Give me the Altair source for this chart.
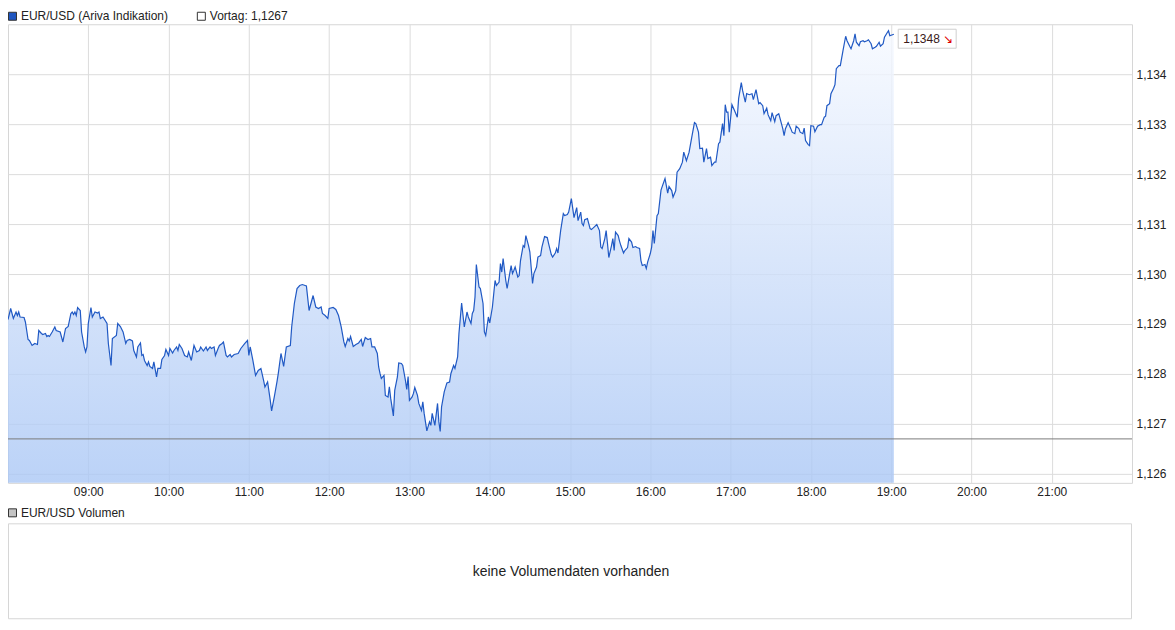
import altair as alt
import pandas as pd

# minutes after 08:00
MINUTES = [
    0,2,4,6,7,8,9,12,13,15, 16,18,20,22,23,25,26,28,29,30, 31,33,35,36,39,41,43,45,47,48,
    49,50,51,52,54,55,57,58,59,60, 62,63,65,67,68,69,71,74,75,77, 78,81,82,84,86,88,89,91,93,94,
    96,97,99,100,101,102,104,105,106,108, 109,111,112,114,115,117,118,120,121,123,
    124,126,127,128,130,132,134,135,137,139, 141,143,144,146,148,149,151,152,154,155,
    157,158,160,161,163,164,166,167,169,
    172,174,177,179,180,181,183,185,187,189, 191,192,194,196,197,199,201,202,204,206,
    208,211,212,214,216,218,220,222,223,225, 228,230,232,234,235,237,239,240,243,245,
    247,249,251,252,254,255,256,258,260,262, 264,265,267,269,271,272,274,276,277,278,
    279,281,282,284,285,286,288,289,291,292, 294,295,297,298,299,300,302,303,304,306,
    307,309,310,311,313,315,316,317,319,321, 322,323,324,326,328,330,331,333,
    334,336,337,339,341,343,344,346,347,348, 349,350,352,353,355,356,357,359,360,362,
    364,365,367,368,369,370,372,373,374,376, 377,378,379,381,382,383,385,386,387,389,
    390,392,393,395,396,398,399,401,403,404, 406,407,409,410,411,413,415,416,418,419,
    421,423,425,426,428,429,430,431,433,435, 436,438,440,442,443,444,446,447,448,449,
    451,452,453,454,456,457,458,460,461,463, 464,466,467,469,470,472,473,474,476,477,
    478,480,481,482,483,485,486,488,489,491, 493,494,496,497,
    499,500,502,504,505,507,509,511,513,514, 516,517,519,520,522,523,525,526,528,529,
    531,532,534,535,536,537,538,539,541,543, 545,546,548,549,551,552,554,556,557,559,
    561,562,564,565,567,568,570,571,573,574, 576,577,579,580,581,583,585,586,588,589,
    591,592,594,595,596,598,599,600,602,603, 605,607,608,610,611,612,614,615,617,618,
    619,621,622,624,626,627,629,630,632,633, 634,636,637,639,640,642,643,645,646,648,
    649,651,652,654,655,657,658,659,662,
]

PRICES = [
    1.12909,1.12931,1.12911,1.12924,1.12917,1.12924,1.12914,1.12913,1.12904,1.12869,
    1.12867,1.12857,1.12861,1.12859,1.12887,1.12881,1.12879,1.12881,1.12875,1.12877,
    1.12875,1.12884,1.12894,1.12887,1.12884,1.12864,1.12891,1.12895,1.12921,1.12924,
    1.12919,1.12924,1.12917,1.12933,1.12927,1.12884,1.12854,1.12844,1.12854,1.12901,
    1.12933,1.12914,1.12924,1.12922,1.12924,1.12911,1.12914,1.12901,1.12861,1.12817,
    1.12871,1.12877,1.12901,1.12895,1.12884,1.12861,1.12867,1.12869,1.12866,1.12847,
    1.12834,1.12854,1.12862,1.12837,1.12839,1.12827,1.12817,1.12824,1.12815,1.12811,
    1.12824,1.12794,1.12811,1.12811,1.12829,1.12837,1.12849,1.12837,1.12851,1.12842,
    1.12847,1.12854,1.12847,1.12859,1.12851,1.12837,1.12834,1.12844,1.12827,1.12857,
    1.12844,1.12847,1.12854,1.12846,1.12854,1.12847,1.12854,1.12851,1.12854,1.12837,
    1.12851,1.12857,1.12861,1.12864,1.12837,1.12834,1.12839,1.12834,1.12839,
    1.12841,1.12851,1.12861,1.12867,1.12837,1.12854,1.12827,1.12797,1.12807,1.12811,
    1.12787,1.12774,1.12784,1.12747,1.12726,1.12754,1.12784,1.12801,1.12841,1.12815,
    1.12854,1.12857,1.12894,1.12941,1.12971,1.12977,1.12979,1.12977,1.12976,1.12927,
    1.12957,1.12934,1.12931,1.12934,1.12921,1.12917,1.12911,1.12931,1.12933,1.12929,
    1.12917,1.12894,1.12864,1.12855,1.12871,1.12866,1.12875,1.12855,1.12859,1.12862,
    1.12869,1.12855,1.12873,1.12869,1.12871,1.12854,1.12854,1.12841,1.12814,1.12801,
    1.12791,1.12797,1.12757,1.12754,1.12774,1.12751,1.12716,1.12767,1.12794,1.12822,
    1.12821,1.12817,1.12787,1.12769,1.12795,1.12747,1.12754,1.12761,1.12773,1.12757,
    1.12741,1.12727,1.12744,1.12721,1.12686,1.12704,1.12697,1.12721,1.12697,1.12741,
    1.12704,1.12685,1.12734,1.12764,1.12782,1.12784,1.12801,1.12817,
    1.12811,1.12834,1.12881,1.12942,1.12894,1.12924,1.12914,1.12901,1.12921,1.12927,
    1.12954,1.13019,1.12974,1.12971,1.12941,1.12884,1.12877,1.12914,1.12902,1.12934,
    1.12987,1.12977,1.12984,1.13021,1.13004,1.13031,1.12987,1.12971,1.12987,1.13017,
    1.13001,1.13007,1.13014,1.12994,1.12997,1.13027,1.13057,1.13054,1.13077,1.13057,
    1.13044,1.12981,1.13001,1.13014,1.13034,1.13037,1.13054,1.13075,1.13073,1.13061,
    1.13039,1.13034,1.13042,1.13051,1.13042,1.13087,1.13121,1.13117,1.13119,1.13124,
    1.13151,1.13113,1.13133,1.13107,1.13124,1.13101,1.13097,1.13109,1.13111,1.13091,
    1.13089,1.13094,1.13099,1.13087,1.13054,1.13051,1.13071,1.13087,1.13061,1.13033,
    1.13057,1.13071,1.13047,1.13084,1.13077,1.13066,1.13057,1.13042,1.13047,1.13053,
    1.13071,1.13064,1.13053,1.13055,1.13053,1.13051,1.13027,1.13017,1.13019,1.13011,
    1.13024,1.13041,1.13054,1.13087,1.13061,1.13117,1.13121,1.13168,1.13176,1.13191,
    1.13162,1.13175,1.13167,1.13154,
    1.13167,1.13204,1.13211,1.13224,1.13244,1.13227,1.13244,1.13274,1.13303,1.13301,
    1.13284,1.13251,1.13252,1.13224,1.13251,1.13231,1.13234,1.13217,1.13224,1.13224,
    1.13261,1.13264,1.13301,1.13277,1.13339,1.13324,1.13324,1.13284,1.13339,1.13327,
    1.13314,1.13351,1.13383,1.13367,1.13344,1.13361,1.13359,1.13361,1.13349,1.13369,
    1.13341,1.13343,1.13337,1.13321,1.13332,1.13319,1.13307,1.13323,1.13305,1.13317,
    1.13321,1.13311,1.13291,1.13277,1.13291,1.13303,1.13291,1.13284,1.13281,1.13296,
    1.13291,1.13284,1.13281,1.13292,1.13267,1.13259,1.13257,1.13297,1.13296,1.13285,
    1.13296,1.13299,1.13299,1.13314,1.13316,1.13337,1.13341,1.13361,1.13372,1.13379,
    1.13411,1.13417,1.13417,1.13447,1.13476,1.13467,1.13456,1.13451,1.13467,1.13481,
    1.13464,1.13457,1.13465,1.13467,1.13465,1.13467,1.13469,1.13461,1.13451,1.13454,
    1.13456,1.13464,1.13456,1.13461,1.13474,1.13483,1.13487,1.13477,1.1348,
]

VORTAG = 1.1267
Y_MIN, Y_MAX = 1.12582, 1.135
Y_TICKS = [1.126, 1.127, 1.128, 1.129, 1.130, 1.131, 1.132, 1.133, 1.134]
X_TICKS = [60, 120, 180, 240, 300, 360, 420, 480, 540, 600, 660, 720, 780]
X_DOMAIN = [0, 840]

TITLE_MAIN = "EUR/USD (Ariva Indikation)"
TITLE_VORTAG = "Vortag: 1,1267"
TITLE_VOL = "EUR/USD Volumen"
NO_VOLUME = "keine Volumendaten vorhanden"
LAST_LABEL = "1,1348"
ARROW = "\u2198"

W, H = 1125, 459
FONT = "Liberation Sans"
GRID = "#dcdcdc"

df = pd.DataFrame({"t": MINUTES, "p": PRICES})
df["i"] = range(len(df))

x_enc = alt.X(
    "t:Q",
    scale=alt.Scale(domain=X_DOMAIN, nice=False, zero=False),
    axis=alt.Axis(
        values=X_TICKS, title=None, domain=False, ticks=False, labelPadding=4,
        grid=True, gridColor=GRID, labelFontSize=12, labelColor="#222222", labelFont=FONT,
        labelExpr="(datum.value/60+8 < 10 ? '0' : '') + (datum.value/60+8) + ':00'",
    ),
)
y_enc = alt.Y(
    "p:Q",
    scale=alt.Scale(domain=[Y_MIN, Y_MAX], nice=False, zero=False),
    axis=alt.Axis(
        orient="right", values=Y_TICKS, title=None, domain=False, ticks=False,
        labelPadding=4, grid=True, gridColor=GRID, labelFontSize=12,
        labelColor="#222222", labelFont=FONT,
        labelExpr="replace(format(datum.value, '.3f'), '.', ',')",
    ),
)

area = alt.Chart(df).mark_area(
    fill=alt.Gradient(
        gradient="linear",
        stops=[alt.GradientStop(color="#f6f9ff", offset=0),
               alt.GradientStop(color="#aac7f5", offset=1)],
        x1=0, x2=0, y1=0, y2=1,
    ),
    fillOpacity=0.8,
).encode(x=x_enc, y=y_enc, y2=alt.datum(Y_MIN))

line = alt.Chart(df).mark_line(color="#2059c4", strokeWidth=1.2).encode(
    x=x_enc, y=y_enc, order="i:Q"
)

rule = alt.Chart(pd.DataFrame({"p": [VORTAG]})).mark_rule(
    color="#7a7a7a", strokeWidth=1
).encode(y=y_enc)

one = pd.DataFrame({"a": [0]})

def box(x0, x1, y0, y1, fill, stroke):
    return alt.Chart(one).mark_rect(fill=fill, stroke=stroke, strokeWidth=1).encode(
        x=alt.value(x0), x2=alt.value(x1), y=alt.value(y0), y2=alt.value(y1)
    )

def label(txt, xx, yy, size=12, color="#222222", align="left", font=FONT):
    return alt.Chart(one).mark_text(
        align=align, baseline="middle", fontSize=size, color=color, font=font
    ).encode(x=alt.value(xx), y=alt.value(yy), text=alt.value(txt))

layers = [
    area, line, rule,
    box(891, 949, 5, 24, "white", "#cfcfcf"),
    label(LAST_LABEL, 896, 15, color="#3a1a1a"),
    label(ARROW, 936, 15, size=12, color="#e00000", font="DejaVu Sans"),
    box(0.5, 8.5, -12, -4, "#1f56c0", "#333333"),
    label(TITLE_MAIN, 13, -8),
    box(189.5, 197.5, -12, -4, "white", "#333333"),
    label(TITLE_VORTAG, 202, -8),
    box(0.5, 8.5, 485, 493, "#c4c4c4", "#333333"),
    label(TITLE_VOL, 13, 489),
    box(0.5, W - 0.5, 500, 595, "white", "#d6d6d6"),
    label(NO_VOLUME, W / 2 + 1, 548, size=14, align="center"),
]

chart = alt.layer(*layers).properties(
    width=W, height=H,
    padding={"left": 0, "top": 16, "right": 35, "bottom": 137},
    autosize=alt.AutoSizeParams(type="none"),
).configure_view(stroke="#d6d6d6", strokeWidth=1)

chart.save("out.html", embed_options={"renderer": "svg", "actions": False})
